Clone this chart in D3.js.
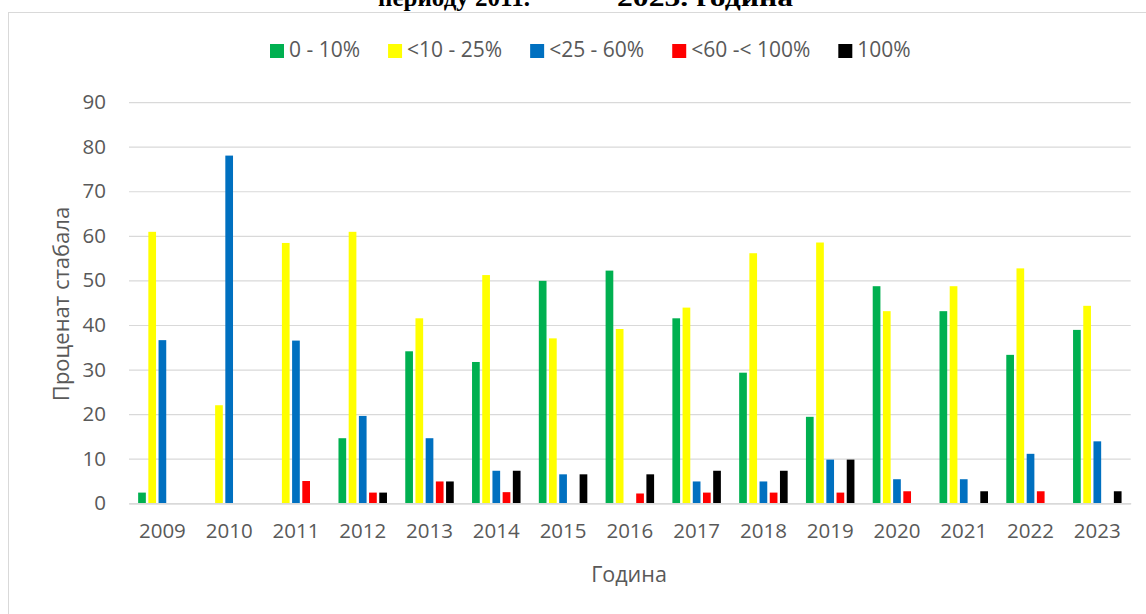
<!DOCTYPE html>
<html>
<head>
<meta charset="utf-8">
<script src="https://cdn.jsdelivr.net/npm/d3@7"></script>
<style>
  html, body { margin: 0; padding: 0; background: #fff; }
  svg { display: block; }
</style>
</head>
<body>
<svg id="chart" width="1146" height="614"></svg>
<script>
const years = ["2009","2010","2011","2012","2013","2014","2015","2016","2017","2018","2019","2020","2021","2022","2023"];
const seriesNames = ["0 - 10%", "<10 - 25%", "<25 - 60%", "<60 -< 100%", "100%"];
const seriesColors = ["#00B050", "#FFFF00", "#0070C0", "#FF0000", "#000000"];
const s0_10   = [2.4, 0, 0, 14.6, 34.1, 31.7, 49.9, 52.2, 41.5, 29.3, 19.4, 48.7, 43.1, 33.3, 38.9];
const s10_25  = [60.9, 22.0, 58.4, 60.9, 41.5, 51.2, 37.0, 39.1, 43.9, 56.1, 58.5, 43.1, 48.7, 52.7, 44.3];
const s25_60  = [36.6, 78.0, 36.5, 19.6, 14.6, 7.3, 6.5, 0, 4.9, 4.9, 9.8, 5.4, 5.4, 11.1, 13.9];
const s60_100 = [0, 0, 5.0, 2.4, 4.9, 2.5, 0, 2.2, 2.4, 2.4, 2.4, 2.7, 0, 2.7, 0];
const s100    = [0, 0, 0, 2.4, 4.9, 7.3, 6.5, 6.5, 7.3, 7.3, 9.8, 0, 2.7, 0, 2.7];
const yTicks = [0, 10, 20, 30, 40, 50, 60, 70, 80, 90];
const titleLeft = "периоду 2011.";
const titleRight = "2025. година";
const yTitle = "Проценат стабала";
const xTitle = "Година";

const allSeries = [s0_10, s10_25, s25_60, s60_100, s100];

const svg = d3.select("#chart");
const font = "'Open Sans', 'Noto Sans', sans-serif";
const textColor = "#595959";
const gridColor = "#D9D9D9";

// chart frame
svg.append("rect")
  .attr("x", 8.5).attr("y", 12.5)
  .attr("width", 1160).attr("height", 640)
  .attr("fill", "#fff").attr("stroke", gridColor).attr("stroke-width", 1);

// title (clipped at top, as in the reference)
svg.append("text").attr("x", 530).attr("y", 6)
  .attr("text-anchor", "end")
  .attr("font-family", "'Liberation Serif', 'Times New Roman', serif")
  .attr("font-weight", "bold").attr("font-size", 25)
  .attr("textLength", 152).attr("lengthAdjust", "spacingAndGlyphs")
  .attr("fill", "#000").text(titleLeft);
svg.append("text").attr("x", 617).attr("y", 6)
  .attr("font-family", "'Liberation Serif', 'Times New Roman', serif")
  .attr("font-weight", "bold").attr("font-size", 25)
  .attr("textLength", 176).attr("lengthAdjust", "spacingAndGlyphs")
  .attr("fill", "#000").text(titleRight);

const plotLeft = 129, plotRight = 1130.7, plotTop = 102.1, plotBottom = 503.3;

const x0 = d3.scaleBand().domain(years).range([plotLeft, plotRight]).padding(0);
const groupW = 48.5;
const x1 = d3.scaleBand().domain(d3.range(seriesNames.length)).range([0, groupW]).paddingInner(0.245).paddingOuter(0);
const y = d3.scaleLinear().domain([0, 90]).range([plotBottom, plotTop]);

// gridlines + y tick labels
const yAxis = d3.axisLeft(y).tickValues(yTicks).tickSize(-(plotRight - plotLeft)).tickPadding(23).tickFormat(d3.format("d"));
const gy = svg.append("g").attr("transform", `translate(${plotLeft},0)`).call(yAxis);
gy.select(".domain").remove();
gy.selectAll(".tick line").attr("stroke", gridColor).attr("stroke-width", 1.2);
gy.selectAll(".tick text").attr("fill", textColor).attr("font-family", font).attr("font-size", 20.5);

// bars
const groups = svg.append("g").selectAll("g").data(years).join("g")
  .attr("transform", d => `translate(${x0(d) + (x0.bandwidth() - groupW) / 2},0)`);
groups.selectAll("rect")
  .data((d, i) => allSeries.map((s, k) => ({ k, v: s[i] })).filter(o => o.v > 0))
  .join("rect")
  .attr("x", d => x1(d.k))
  .attr("width", x1.bandwidth())
  .attr("y", d => y(d.v))
  .attr("height", d => y(0) - y(d.v))
  .attr("fill", d => seriesColors[d.k]);

// x axis
const xAxis = d3.axisBottom(x0).tickSize(0).tickPadding(20);
const gx = svg.append("g").attr("transform", `translate(0,${plotBottom})`).call(xAxis);
gx.select(".domain").attr("stroke", gridColor).attr("stroke-width", 1.5);
gx.selectAll(".tick text").attr("fill", textColor).attr("font-family", font).attr("font-size", 20.5);

// axis titles
svg.append("text")
  .attr("transform", `translate(69,${304}) rotate(-90)`)
  .attr("text-anchor", "middle")
  .attr("fill", textColor).attr("font-family", font).attr("font-size", 22)
  .text(yTitle);
svg.append("text")
  .attr("x", 629).attr("y", 582)
  .attr("text-anchor", "middle")
  .attr("fill", textColor).attr("font-family", font).attr("font-size", 21.5)
  .text(xTitle);

// legend
const legend = svg.append("g");
let lx = 270;
seriesNames.forEach((name, k) => {
  legend.append("rect").attr("x", lx).attr("y", 44).attr("width", 14).attr("height", 14).attr("fill", seriesColors[k]);
  const t = legend.append("text").attr("x", lx + 19).attr("y", 57)
    .attr("fill", textColor).attr("font-family", font).attr("font-size", 21).text(name);
  lx += 19 + t.node().getComputedTextLength() + 28;
});
</script>
</body>
</html>
